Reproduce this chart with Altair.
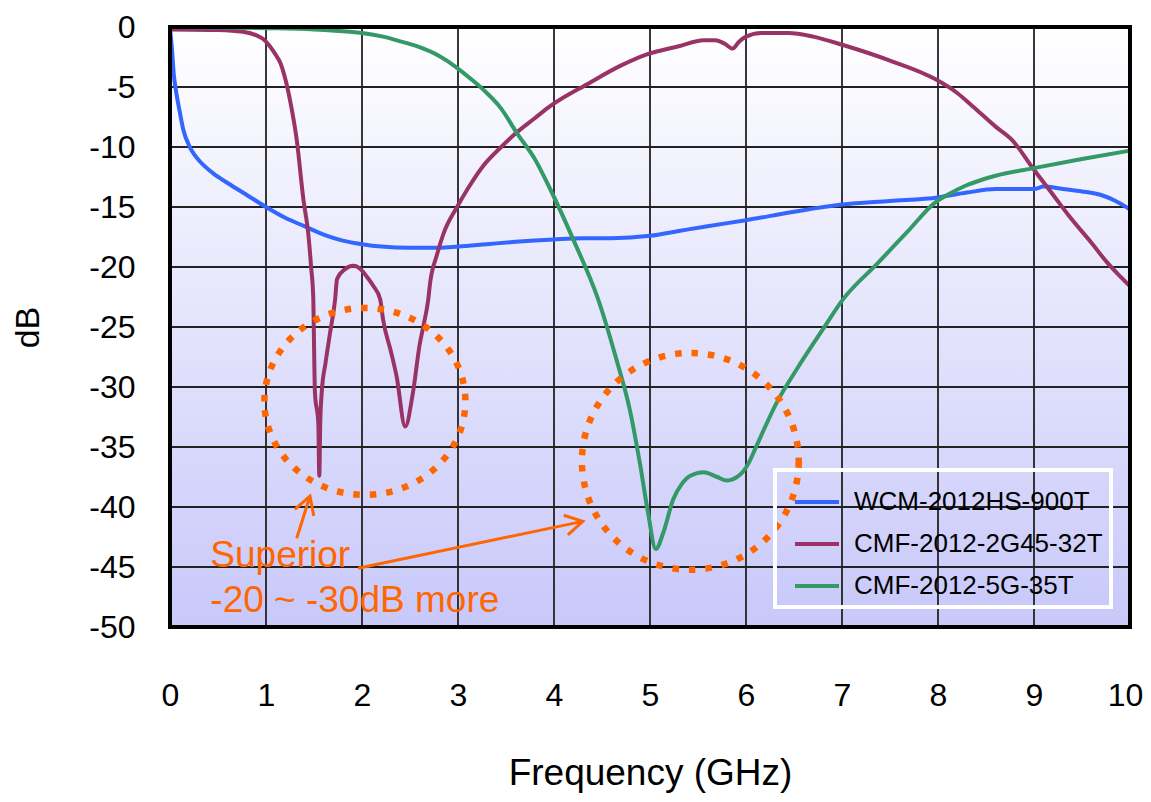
import altair as alt
import pandas as pd

FONT = "Liberation Sans"
ORANGE = "#ff6600"

SERIES = ["WCM-2012HS-900T", "CMF-2012-2G45-32T", "CMF-2012-5G-35T"]
COLORS = ["#3366ff", "#993366", "#339966"]

X_TICKS = [0, 1, 2, 3, 4, 5, 6, 7, 8, 9, 10]
Y_TICKS = [0, -5, -10, -15, -20, -25, -30, -35, -40, -45, -50]

WCM_X = [0.0, 0.02, 0.04, 0.06, 0.1, 0.14, 0.2, 0.25, 0.3, 0.45, 0.6, 0.8, 1.0, 1.2, 1.4,
         1.6, 1.8, 2.0, 2.2, 2.5, 2.8, 3.0, 3.3, 3.6, 4.0, 4.3, 4.6, 5.0, 5.3, 5.6, 6.0,
         6.5, 7.0, 7.5, 8.0, 8.3, 8.6, 9.0, 9.1, 9.3, 9.5, 9.7, 9.85, 10.0]
WCM_Y = [-0.1, -1.8, -4.0, -5.2, -7.0, -8.6, -9.9, -10.6, -11.1, -12.2, -13.0, -14.0, -15.0,
         -15.9, -16.6, -17.3, -17.8, -18.1, -18.3, -18.4, -18.4, -18.3, -18.1, -17.9, -17.7,
         -17.6, -17.6, -17.4, -17.0, -16.6, -16.1, -15.4, -14.8, -14.5, -14.2, -13.8, -13.5,
         -13.5, -13.3, -13.5, -13.7, -14.0, -14.5, -15.2]

CMF2_X = [0.0, 0.5, 0.76, 0.9, 0.97, 1.04, 1.1, 1.15, 1.2, 1.25, 1.32, 1.39, 1.44, 1.47,
          1.493, 1.50, 1.51, 1.545, 1.555, 1.565, 1.58, 1.62, 1.667, 1.72, 1.74, 1.82, 1.91,
          2.0, 2.05, 2.12, 2.19, 2.22, 2.30, 2.36, 2.45, 2.53, 2.60, 2.64, 2.69, 2.71, 2.78,
          2.85, 2.99, 3.1, 3.26, 3.45, 3.61, 3.8, 3.96, 4.36, 4.7, 4.96, 5.3, 5.56, 5.68,
          5.78, 5.86, 5.93, 6.0, 6.16, 6.44, 6.7, 7.01, 7.5, 7.96, 8.2, 8.36, 8.6, 8.77, 9.0,
          9.2, 9.37, 9.6, 9.77, 9.9, 10.0]
CMF2_Y = [-0.2, -0.25, -0.4, -0.7, -1.0, -1.6, -2.3, -3.0, -4.3, -6.1, -9.4, -14.4, -17.2,
          -20.0, -22.7, -26.3, -30.5, -33.0, -37.4, -33.0, -30.5, -28.0, -25.5, -22.7, -21.0,
          -20.2, -19.9, -20.3, -20.8, -21.6, -22.7, -24.4, -27.0, -29.1, -33.3, -30.5, -26.5,
          -24.9, -22.7, -21.3, -19.0, -17.2, -15.0, -13.5, -11.6, -10.0, -8.8, -7.6, -6.6,
          -4.7, -3.2, -2.3, -1.6, -1.1, -1.1, -1.4, -1.8, -1.2, -0.8, -0.5, -0.5, -0.8, -1.5,
          -2.8, -4.3, -5.5, -6.6, -8.3, -9.4, -11.9, -14.0, -15.8, -18.0, -19.7, -20.8, -21.6]

CMF5_X = [0.0, 0.5, 1.0, 1.5, 1.88, 2.0, 2.22, 2.4, 2.57, 2.8, 2.99, 3.13, 3.26, 3.45, 3.61,
          3.8, 3.96, 4.2, 4.46, 4.65, 4.79, 4.9, 4.98, 5.06, 5.14, 5.24, 5.33, 5.42, 5.56,
          5.7, 5.8, 5.94, 6.03, 6.11, 6.32, 6.53, 6.8, 7.01, 7.37, 7.7, 7.96, 8.12, 8.28,
          8.45, 8.6, 8.97, 9.5, 10.0]
CMF5_Y = [0.0, -0.05, -0.1, -0.2, -0.4, -0.5, -0.8, -1.2, -1.6, -2.4, -3.4, -4.3, -5.2, -6.8,
          -8.8, -11.0, -13.5, -17.7, -22.7, -27.7, -31.9, -36.6, -40.5, -43.5, -42.1, -39.4,
          -38.1, -37.4, -37.1, -37.5, -37.8, -37.3, -36.3, -34.9, -31.3, -28.5, -25.2, -22.7,
          -19.7, -16.9, -14.7, -13.9, -13.25, -12.75, -12.4, -11.8, -11.0, -10.3]

# annotation anchors (data coordinates)
ELL1_C = [2.03, -31.2]
ELL2_C = [5.42, -36.2]
ARROW1 = [1.32, -42.6, 1.458, -39.1]   # tail x, tail y, tip x, tip y
ARROW2 = [1.96, -45.1, 4.30, -41.2]
TEXT_X = [0.42, 0.42]
TEXT_Y = [-45.0, -48.75]
TEXT_S = ["Superior", "-20 ~ -30dB more"]

# ---------------- data tables ----------------
lines = pd.concat([
    pd.DataFrame({"x": WCM_X, "y": WCM_Y, "series": SERIES[0]}),
    pd.DataFrame({"x": CMF2_X, "y": CMF2_Y, "series": SERIES[1]}),
    pd.DataFrame({"x": CMF5_X, "y": CMF5_Y, "series": SERIES[2]}),
], ignore_index=True)

frame = pd.DataFrame({"x0": [X_TICKS[0]], "x1": [X_TICKS[-1]],
                      "y0": [Y_TICKS[0]], "y1": [Y_TICKS[-1]]})
gx = pd.DataFrame({"gx": X_TICKS[1:-1]})
gy = pd.DataFrame({"gy": Y_TICKS[1:-1]})
e1 = pd.DataFrame({"ex": [ELL1_C[0]], "ey": [ELL1_C[1]]})
e2 = pd.DataFrame({"ex": [ELL2_C[0]], "ey": [ELL2_C[1]]})
arrows = pd.DataFrame({"ax": [ARROW1[0], ARROW2[0]], "ay": [ARROW1[1], ARROW2[1]],
                       "ax2": [ARROW1[2], ARROW2[2]], "ay2": [ARROW1[3], ARROW2[3]]})
h1 = pd.DataFrame({"hx": [ARROW1[2]], "hy": [ARROW1[3]]})
h2 = pd.DataFrame({"hx": [ARROW2[2]], "hy": [ARROW2[3]]})
texts = pd.DataFrame({"tx": TEXT_X, "ty": TEXT_Y, "txt": TEXT_S})

XS = alt.Scale(domain=[X_TICKS[0], X_TICKS[-1]], nice=False, zero=False)
YS = alt.Scale(domain=[Y_TICKS[-1], Y_TICKS[0]], nice=False, zero=False)

XAXIS = alt.Axis(values=X_TICKS, grid=False, ticks=False, domain=False,
                 labelFont=FONT, labelFontSize=32, labelColor="black", labelPadding=53,
                 labelFlush=False, labelOverlap=False, labelExpr="'' + datum.value",
                 labelOffset={"condition": {"test": "datum.value == %d" % X_TICKS[-1],
                                            "value": -5}, "value": 0},
                 title="Frequency (GHz)", titleFont=FONT, titleFontSize=37,
                 titleFontWeight="normal", titleColor="black", titlePadding=44)
YAXIS = alt.Axis(values=Y_TICKS, grid=False, ticks=False, domain=False,
                 labelFont=FONT, labelFontSize=32, labelColor="black", labelPadding=35,
                 labelFlush=False, labelOverlap=False, labelExpr="'' + datum.value",
                 title="dB", titleFont=FONT, titleFontSize=34,
                 titleFontWeight="normal", titleColor="black", titlePadding=43)


def X(f):
    return alt.X(f, type="quantitative", scale=XS, axis=XAXIS)


def Y(f):
    return alt.Y(f, type="quantitative", scale=YS, axis=YAXIS)


grad = alt.LinearGradient(gradient="linear",
                          stops=[alt.GradientStop(color="#ffffff", offset=0),
                                 alt.GradientStop(color="#c8c8fa", offset=1)],
                          x1=0, x2=0, y1=0, y2=1)

bg = alt.Chart(frame).mark_rect(fill=grad).encode(
    x=X("x0"), x2=alt.X2("x1"), y=Y("y0"), y2=alt.Y2("y1"))

gridx = alt.Chart(gx).mark_rule(color="#222222", strokeWidth=1.8).encode(x=X("gx"))
gridy = alt.Chart(gy).mark_rule(color="#222222", strokeWidth=1.8).encode(y=Y("gy"))

line_layer = alt.Chart(lines).mark_line(strokeWidth=4, strokeJoin="round", strokeCap="round",
                                        interpolate="monotone").encode(
    x=X("x"), y=Y("y"),
    color=alt.Color("series:N", scale=alt.Scale(domain=SERIES, range=COLORS),
                    sort=SERIES,
                    legend=alt.Legend(orient="none", legendX=605, legendY=443, title=None,
                                      symbolType="stroke", symbolSize=1936,
                                      symbolStrokeWidth=4, symbolOffset=10, labelOffset=13,
                                      labelFont=FONT, labelFontSize=26, labelColor="black",
                                      labelLimit=500, rowPadding=5, padding=8,
                                      strokeColor="white",
                                      labelExpr="datum.label + '    '")))

ELL1_PATH = "M -1 0 A 1 0.93 0 1 1 1 0 A 1 0.93 0 1 1 -1 0 Z"
ell1 = alt.Chart(e1).mark_point(shape=ELL1_PATH, size=40400, filled=False, opacity=1,
                                stroke=ORANGE, strokeWidth=6.5, strokeDash=[6.5, 10]).encode(
    x=X("ex"), y=Y("ey"))
ell2 = alt.Chart(e2).mark_point(shape="circle", size=47000, filled=False, opacity=1,
                                stroke=ORANGE, strokeWidth=6.5, strokeDash=[6.5, 10]).encode(
    x=X("ex"), y=Y("ey"))

arrow_lines = alt.Chart(arrows).mark_rule(color=ORANGE, strokeWidth=3).encode(
    x=X("ax"), y=Y("ay"), x2=alt.X2("ax2"), y2=alt.Y2("ay2"))

CHEVRON = "M -0.5 0.87 L 0 0 L 0.5 0.87"
head1 = alt.Chart(h1).mark_point(shape=CHEVRON, size=1600, filled=False, opacity=1,
                                 stroke=ORANGE, strokeWidth=3, angle=19).encode(
    x=X("hx"), y=Y("hy"))
head2 = alt.Chart(h2).mark_point(shape=CHEVRON, size=1600, filled=False, opacity=1,
                                 stroke=ORANGE, strokeWidth=3, angle=78).encode(
    x=X("hx"), y=Y("hy"))

label_layer = alt.Chart(texts).mark_text(align="left", baseline="alphabetic", font=FONT,
                                         fontSize=37, color=ORANGE).encode(
    x=X("tx"), y=Y("ty"), text="txt:N")

border = alt.Chart(frame).mark_rect(fillOpacity=0, stroke="black", strokeWidth=4).encode(
    x=X("x0"), x2=alt.X2("x1"), y=Y("y0"), y2=alt.Y2("y1"))

chart = alt.layer(bg, gridx, gridy, line_layer, ell1, ell2, arrow_lines, head1, head2,
                  label_layer, border).properties(
    width=960, height=600,
    padding={"left": 162, "top": 19, "right": 13, "bottom": 167},
    autosize=alt.AutoSizeParams(type="none"),
    background="white",
).configure_view(stroke=None).configure_legend(strokeWidth=4)

chart.save("out.html", embed_options={"renderer": "svg", "actions": False})
